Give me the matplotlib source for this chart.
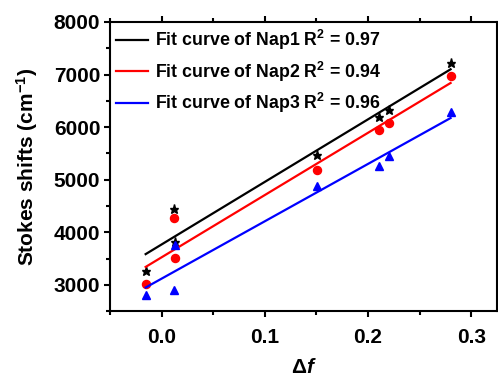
import numpy as np
import matplotlib
matplotlib.use('Agg')
import matplotlib.pyplot as plt
from matplotlib.ticker import MultipleLocator

plt.rcParams['font.family'] = 'Liberation Sans'
plt.rcParams['font.weight'] = 'bold'
plt.rcParams['mathtext.fontset'] = 'custom'
plt.rcParams['mathtext.rm'] = 'Liberation Sans:bold'
plt.rcParams['mathtext.bf'] = 'Liberation Sans:bold'
plt.rcParams['mathtext.it'] = 'Liberation Sans:bold:italic'

# polarity parameter of the solvents
delta_f = [-0.0155, 0.0119, 0.0126, 0.1507, 0.2104, 0.2204, 0.280]

# stokes shifts (cm-1)
nap1 = [3267, 4448, 3813, 5463, 6194, 6333, 7222]
nap2 = [3025, 4270, 3514, 5177, 5939, 6080, 6975]
nap3 = [2810, 2905, 3762, 4872, 5253, 5444, 6282]

labels = ['Fit curve of Nap1 R$^{2}$ = 0.97',
          'Fit curve of Nap2 R$^{2}$ = 0.94',
          'Fit curve of Nap3 R$^{2}$ = 0.96']
colors = ['black', 'red', 'blue']
markers = ['*', 'o', '^']

fig = plt.figure(figsize=(4.98, 3.79), dpi=100)
ax = fig.add_axes([0.221, 0.179, 0.777, 0.763])

x = np.array(delta_f)
xx = np.array([x.min(), x.max()])
for ys, c, m, lab in zip([nap1, nap2, nap3], colors, markers, labels):
    ax.plot(x, ys, linestyle='none', marker=m, color=c, markersize=5.8 if m != '*' else 6.5)
    k, b = np.polyfit(x, ys, 1)
    ax.plot(xx, k * xx + b, color=c, lw=1.6, label=lab)

ax.set_xlim(-0.05, 0.325)
ax.set_ylim(2500, 8000)
ax.xaxis.set_major_locator(MultipleLocator(0.1))
ax.xaxis.set_minor_locator(MultipleLocator(0.05))
ax.yaxis.set_major_locator(MultipleLocator(1000))
ax.yaxis.set_minor_locator(MultipleLocator(500))

for s in ax.spines.values():
    s.set_linewidth(1.5)
ax.tick_params(which='major', direction='out', length=4, width=1.5, labelsize=15)
ax.tick_params(which='minor', direction='out', length=3, width=1.5)
ax.tick_params(which='both', top=True, right=False)
ax.tick_params(axis='x', which='major', pad=8)
ax.tick_params(axis='y', which='major', pad=3)
for t in ax.get_xticklabels() + ax.get_yticklabels():
    t.set_fontweight('bold')

ax.set_xticklabels(['0.0' if abs(v) < 1e-9 else f'{v:.1f}' for v in ax.get_xticks()])

ax.set_xlabel('Δ$\\mathit{f}$', fontsize=15, fontweight='bold', labelpad=8)
ax.set_ylabel('Stokes shifts (cm$^{-1}$)', fontsize=15, fontweight='bold', labelpad=10)

ax.legend(loc='upper left', frameon=False, prop={'size': 12.8, 'weight': 'bold'},
          handlelength=1.8, labelspacing=0.4, borderaxespad=0.1, handletextpad=0.4,
          borderpad=0.25)

fig.savefig('out.png', dpi=100)
